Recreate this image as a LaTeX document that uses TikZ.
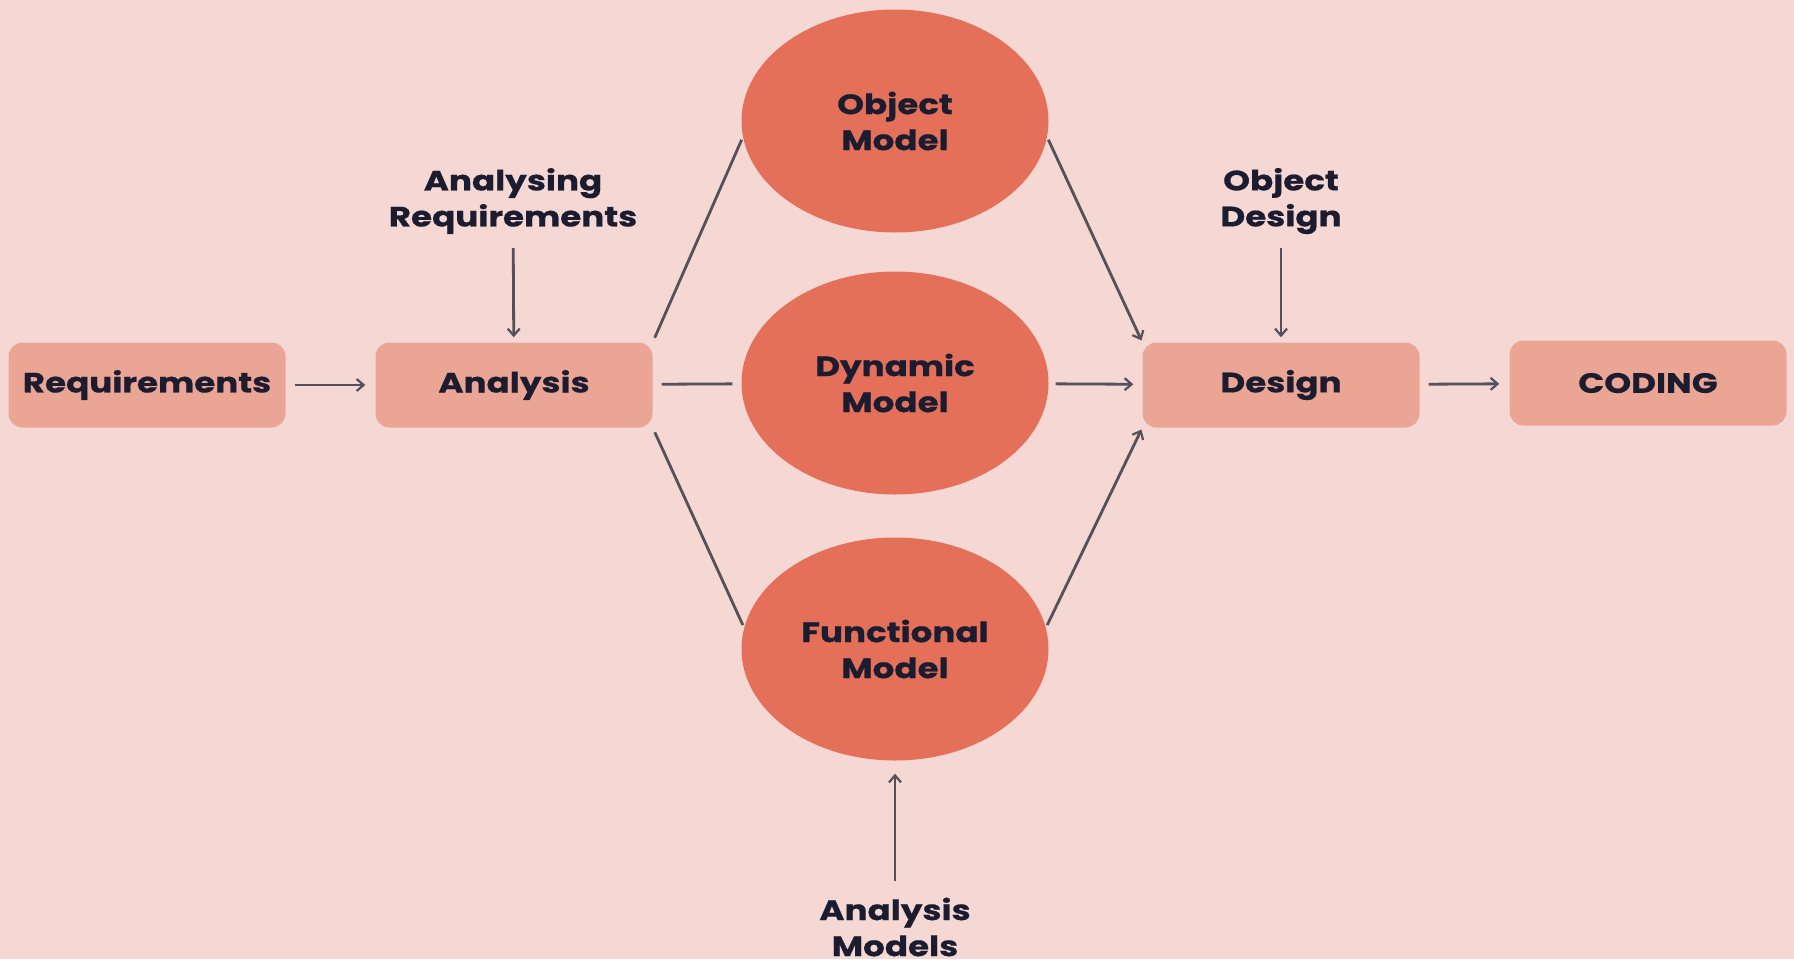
\documentclass[tikz,border=0pt]{standalone}
\usepackage{fontspec}
\setmainfont{Poppins}[BoldFeatures={FakeStretch=1.22,FakeBold=0.6}]
\usetikzlibrary{shapes.geometric,arrows.meta}
\definecolor{bg}{HTML}{F5D8D3}
\definecolor{boxc}{HTML}{EBA595}
\definecolor{ellc}{HTML}{E4705A}
\definecolor{txt}{HTML}{1C1C30}
\definecolor{ln}{HTML}{55505A}
\tikzset{
  x=1pt,y=1pt,
  procbox/.style={fill=boxc,rounded corners=14pt,minimum width=277pt,minimum height=85pt,inner sep=0pt,text=txt,font=\fontsize{28}{31}\selectfont\bfseries},
  modelell/.style={ellipse,fill=ellc,minimum width=307pt,minimum height=223pt,inner sep=0pt,align=center,text=txt,font=\fontsize{28}{36}\selectfont\bfseries},
  lbl/.style={align=center,inner sep=0pt,text=txt,font=\fontsize{28}{36}\selectfont\bfseries},
  conn/.style={draw=ln,line width=2.8pt},
  arr/.style={conn,-{Straight Barb[length=7pt,width=12pt,line width=2.2pt]}},
}
\begin{document}
\begin{tikzpicture}
\fill[bg] (0,0) rectangle (1794,-959);
\useasboundingbox (0,0) rectangle (1794,-959);
\node[procbox] (req) at (147,-385) {Requirements};
\node[procbox] (ana) at (514,-385) {Analysis};
\node[procbox] (des) at (1281,-385) {Design};
\node[procbox] (cod) at (1648,-383) {CODING};
\node[modelell] (obj) at (895,-121) {Object\\Model};
\node[modelell] (dyn) at (895,-383) {Dynamic\\Model};
\node[modelell] (fun) at (895,-649) {Functional\\Model};
\node[lbl] (ar) at (513,-201) {Analysing\\Requirements};
\node[lbl] (od) at (1281,-201) {Object\\Design};
\node[lbl] (am) at (895,-927) {Analysis\\Models};
\draw[arr,shorten <=9pt,shorten >=10pt] (req) -- (ana);
\draw[arr,shorten <=9pt,shorten >=10pt] (des) -- (cod);
\draw[arr,shorten <=7pt,shorten >=9pt] (dyn) -- (des);
\draw[conn,shorten <=9pt,shorten >=9pt] (ana) -- (dyn);
\draw[arr,shorten <=14pt,shorten >=5pt] (ar) -- (ana);
\draw[arr,shorten <=14pt,shorten >=5pt] (od) -- (des);
\draw[arr,shorten <=16pt,shorten >=13pt] (am) -- (fun);
\draw[conn,shorten <=5pt,shorten >=3pt] (ana.north east) -- (obj.186);
\draw[conn,shorten <=5pt,shorten >=3pt] (ana.south east) -- (fun.172);
\draw[arr,shorten <=3pt,shorten >=2pt] (obj.-6) -- (des.north west);
\draw[arr,shorten <=3pt,shorten >=2pt] (fun.8) -- (des.south west);
\end{tikzpicture}
\end{document}
